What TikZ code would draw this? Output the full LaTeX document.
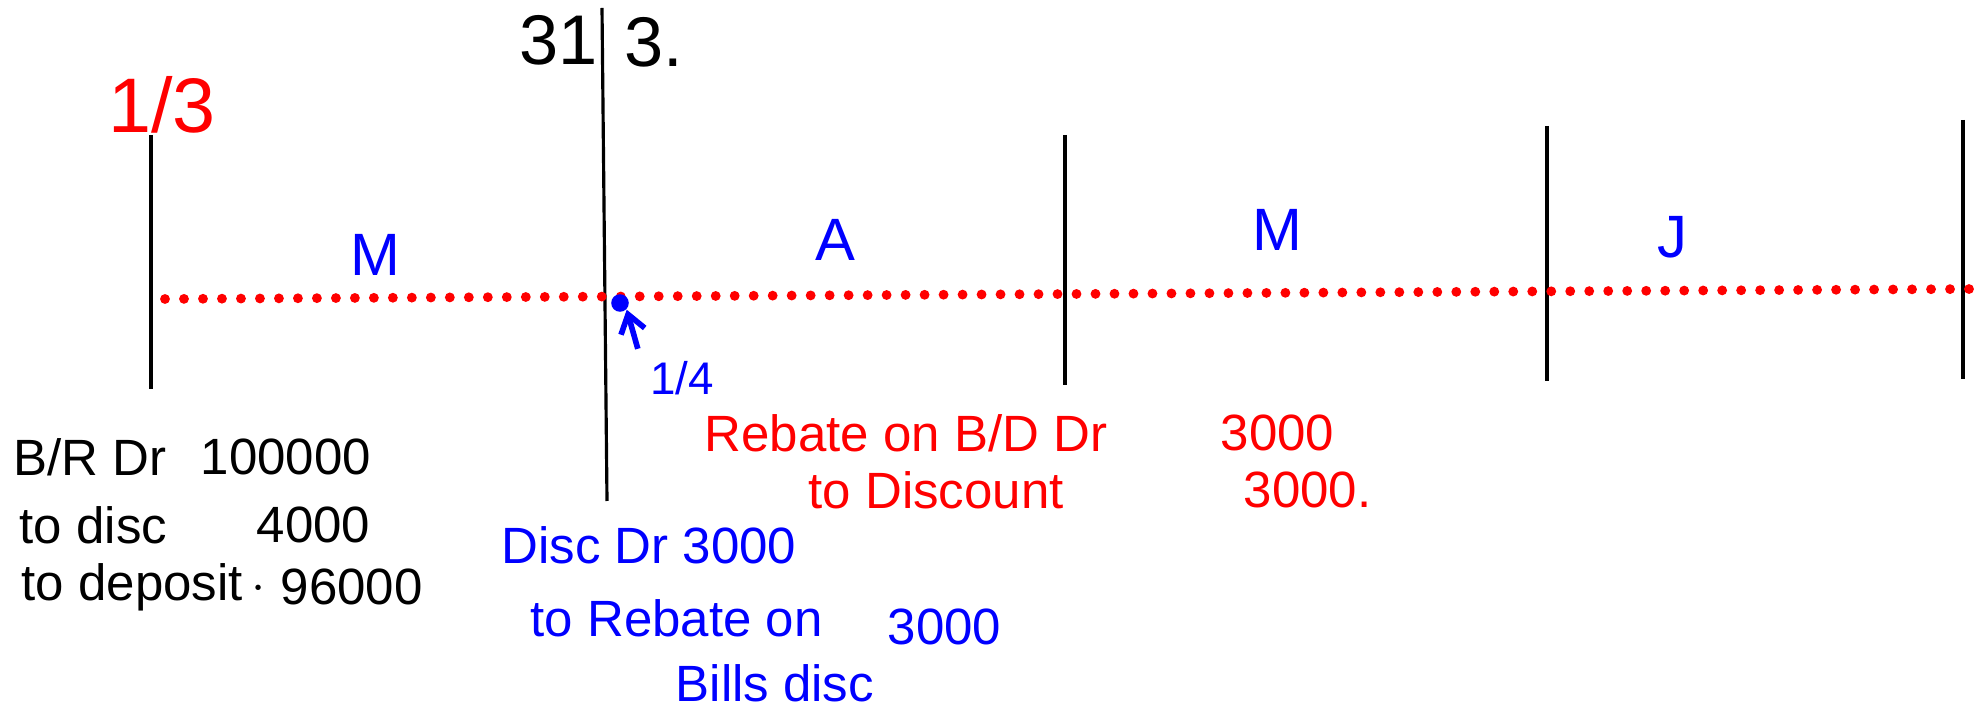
\documentclass[tikz,border=0pt]{standalone}
\usepackage{fontspec}
\setmainfont{Liberation Sans}
\usetikzlibrary{arrows.meta}

\begin{document}
\begin{tikzpicture}[
  x=0.01cm,y=-0.01cm,
  >={Straight Barb[length=5pt,width=7pt]},
  tick/.style={draw=black,line width=0.9pt},
  timeline/.style={draw=red,line width=2.8pt,line cap=round,dash pattern=on 0pt off 5.4pt},
  month/.style={text=blue,font=\fontsize{17}{20}\selectfont},
  entry/.style={anchor=west,inner sep=0pt,font=\fontsize{14.5}{17}\selectfont},
  rednote/.style={entry,text=red},
  bluenote/.style={entry,text=blue},
  pointer/.style={->,draw=blue,line width=1.6pt}
]
  \useasboundingbox (0,0) rectangle (1979,707);

  % quarter ends
  \coordinate (march1) at (151,135);   \coordinate (march1b) at (151,389);
  \coordinate (march31) at (602,8);    \coordinate (march31b) at (607,501);
  \coordinate (april30) at (1065,135); \coordinate (april30b) at (1065,385);
  \coordinate (may31) at (1547,126);   \coordinate (may31b) at (1547,381);
  \coordinate (june30) at (1963,120);  \coordinate (june30b) at (1963,379);

  \draw[tick] (march1) -- (march1b);
  \draw[tick] (march31) -- (march31b);
  \draw[tick] (april30) -- (april30b);
  \draw[tick] (may31) -- (may31b);
  \draw[tick] (june30) -- (june30b);

  \coordinate (tstart) at (165,299);
  \coordinate (tend) at (1975,289);
  \draw[timeline] (tstart) -- (tend);

  \node[text=red,font=\fontsize{22}{24}\selectfont] (opendate) at (162,105) {1/3};
  \node[font=\fontsize{20}{22}\selectfont,anchor=east,inner sep=0pt] (yearend) at (598,40) {31};
  \node[font=\fontsize{20}{22}\selectfont,anchor=west,inner sep=0pt] (yearendb) at (624,42) {3.};

  \node[month] (mar) at (375,255) {M};
  \node[month] (apr) at (835,240) {A};
  \node[month] (may) at (1277,230) {M};
  \node[month] (jun) at (1672,237) {J};

  \node[circle,fill=blue,inner sep=0pt,minimum size=5pt] (dot) at (620,303) {};
  \node[text=blue,font=\fontsize{13}{15}\selectfont] (newyear) at (682,378) {1/4};
  \draw[pointer] (newyear.north west) -- (dot.south east);

  % entries
  \node[entry] (br) at (13,457) {B/R Dr};
  \node[entry] (brv) at (200,457) {100000};
  \node[entry] (disc) at (19,525) {to disc};
  \node[entry] (discv) at (256,525) {4000};
  \node[entry] (dep) at (21,587) {to deposit\,$\cdot$};
  \node[entry] (depv) at (280,587) {96000};

  \node[rednote] (reb) at (704,433) {Rebate on B/D Dr};
  \node[rednote] (rebv) at (1220,433) {3000};
  \node[rednote] (todisc) at (808,490) {to Discount};
  \node[rednote] (todiscv) at (1243,490) {3000.};

  \node[bluenote] (dd) at (501,545) {Disc Dr 3000};
  \node[bluenote] (toreb) at (530,618) {to Rebate on};
  \node[bluenote] (torebv) at (887,627) {3000};
  \node[bluenote] (bills) at (675,683) {Bills disc};
\end{tikzpicture}
\end{document}
